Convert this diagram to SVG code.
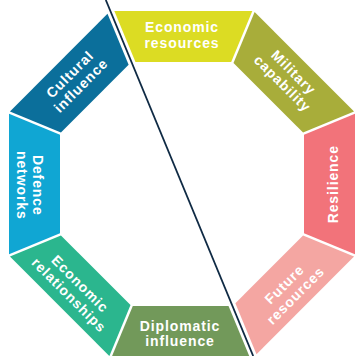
<svg xmlns="http://www.w3.org/2000/svg" width="355" height="356" viewBox="0 0 355 356">
  <style>
    .lbl { font-family: "Liberation Sans", Arial, sans-serif; font-weight: 700; font-size: 14px; fill: #ffffff; text-anchor: middle; letter-spacing: 0.9px; }
    .conn { stroke: #0f2a44; stroke-width: 1.8; fill: none; }
  </style>
  <rect width="355" height="356" fill="#ffffff"/>
  <g id="economic-resources">
    <polygon points="114.34,11 252.31,11 231.18,62 135.47,62" fill="#dcdc23"/>
    <g transform="translate(182,36.3)"><text class="lbl" y="-4.5">Economic</text><text class="lbl" y="11.2">resources</text></g>
  </g>
  <g id="military-capability">
    <polygon points="111.69,11 252.31,11 231.18,62 132.82,62" fill="#a8ad3a" transform="rotate(45,182,184)"/>
    <g transform="translate(287,79) rotate(45)"><text class="lbl" y="-4.5">Military</text><text class="lbl" y="11.2">capability</text></g>
  </g>
  <g id="resilience">
    <polygon points="111.69,11 252.31,11 231.18,62 132.82,62" fill="#f2737a" transform="rotate(90,182,184)"/>
    <g transform="translate(337.5,184.2) rotate(-90)"><text class="lbl" y="0">Resilience</text></g>
  </g>
  <g id="future-resources">
    <polygon points="111.69,11 249.66,11 228.53,62 132.82,62" fill="#f4a6a2" transform="rotate(135,182,184)"/>
    <g transform="translate(291,291) rotate(-45)"><text class="lbl" y="-4.5">Future</text><text class="lbl" y="11.2">resources</text></g>
  </g>
  <g id="diplomatic-influence">
    <polygon points="114.34,11 252.31,11 231.18,62 135.47,62" fill="#72995a" transform="rotate(180,182,184)"/>
    <g transform="translate(180,335)"><text class="lbl" y="-4.5">Diplomatic</text><text class="lbl" y="11.2">influence</text></g>
  </g>
  <g id="economic-relationships">
    <polygon points="111.69,11 252.31,11 231.18,62 132.82,62" fill="#2bb68e" transform="rotate(225,182,184)"/>
    <g transform="translate(73.5,290.5) rotate(45)"><text class="lbl" y="-4.5">Economic</text><text class="lbl" y="11.2">relationships</text></g>
  </g>
  <g id="defence-networks">
    <polygon points="111.69,11 252.31,11 231.18,62 132.82,62" fill="#10a6d3" transform="rotate(270,182,184)"/>
    <g transform="translate(28,185.3) rotate(90)"><text class="lbl" y="-4.5">Defence</text><text class="lbl" y="11.2">networks</text></g>
  </g>
  <g id="cultural-influence">
    <polygon points="111.69,11 249.66,11 228.53,62 132.82,62" fill="#0b6f9b" transform="rotate(315,182,184)"/>
    <g transform="translate(76.5,81) rotate(-45)"><text class="lbl" y="-4.5">Cultural</text><text class="lbl" y="11.2">influence</text></g>
  </g>
  <g id="connectors">
    <line class="conn" x1="105.8" y1="0" x2="253.2" y2="356"/>
  </g>
</svg>
